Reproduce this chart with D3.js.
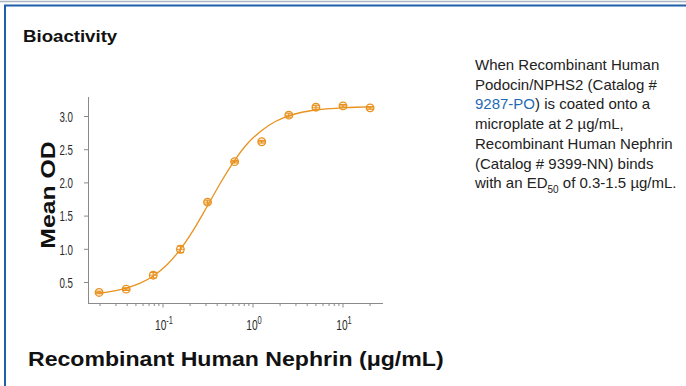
<!DOCTYPE html>
<html><head><meta charset="utf-8">
<script src="https://cdn.jsdelivr.net/npm/d3@7"></script>
<style>
body{margin:0;background:#fff;}
svg{display:block;}
</style></head>
<body>
<script>
// data
const concentrations = [0.0195, 0.039, 0.078, 0.156, 0.3125, 0.625, 1.25, 2.5, 5, 10, 20];
const meanOD = [0.35, 0.40, 0.61, 1.00, 1.71, 2.32, 2.62, 3.02, 3.14, 3.16, 3.13];
const errOD = [0.02, 0.02, 0.04, 0.05, 0.03, 0.02, 0.02, 0.03, 0.03, 0.02, 0.02];
const curveX = [0.0195, 0.0276, 0.039, 0.055, 0.078, 0.11, 0.156, 0.22, 0.3125, 0.44, 0.625, 0.88, 1.25, 1.77, 2.5, 3.5, 5, 7, 10, 14, 20];
const curveY = [0.34, 0.37, 0.415, 0.486, 0.598, 0.763, 1.00, 1.30, 1.656, 2.01, 2.34, 2.60, 2.79, 2.925, 3.01, 3.064, 3.098, 3.118, 3.131, 3.139, 3.144];
const yTicks = [0.5, 1.0, 1.5, 2.0, 2.5, 3.0];
const xMajor = [0.1, 1, 10];
const xMajorExp = ["-1", "0", "1"];

const W = 686, H = 386;
const svg = d3.select("body").append("svg").attr("width", W).attr("height", H);
const blue = "#1d5fa8", orange = "#e8921f", axisC = "#8a8a8a";
const sans = "Liberation Sans, Arial, sans-serif";

// helper: text at (x,y) with horizontal stretch sx
function txt(g, x0, y0, sx, anchor){
  return g.append("text").attr("transform",`translate(${x0},${y0}) scale(${sx},1)`)
    .attr("text-anchor", anchor||"start").attr("font-family", sans);
}

// frame
svg.append("line").attr("x1",0).attr("x2",W).attr("y1",1.5).attr("y2",1.5).attr("stroke","#a9b4c0").attr("stroke-width",1.5);
svg.append("line").attr("x1",4).attr("x2",W).attr("y1",5.5).attr("y2",5.5).attr("stroke",blue).attr("stroke-width",2);
svg.append("line").attr("x1",5).attr("x2",5).attr("y1",5).attr("y2",H).attr("stroke",blue).attr("stroke-width",2);

txt(svg,23,42,1.13).attr("font-weight","bold").attr("font-size",16.5).attr("fill","#111").text("Bioactivity");

// scales
const x = d3.scaleLog().domain([0.1*Math.pow(10,-75/90), 10*Math.pow(10,40/90)]).range([88, 383]);
const y = d3.scaleLinear().domain([0.5, 3.0]).range([282.5, 116.5]);
const yTop = 97, yBot = 303;

// y axis
svg.append("line").attr("x1",88.5).attr("x2",88.5).attr("y1",yTop).attr("y2",yBot).attr("stroke",axisC).attr("stroke-width",1);
const yg = svg.append("g");
yTicks.forEach(t=>{
  yg.append("line").attr("x1",84).attr("x2",88.5).attr("y1",y(t)).attr("y2",y(t)).attr("stroke",axisC);
  txt(yg,73,y(t)+5.2,0.65,"end").attr("font-size",15).attr("fill","#2a2a2a").text(d3.format(".1f")(t));
});
// x axis
svg.append("line").attr("x1",88).attr("x2",383).attr("y1",yBot+0.5).attr("y2",yBot+0.5).attr("stroke",axisC).attr("stroke-width",1);
const minor = [];
[0.01,0.1,1,10].forEach(d=>{ for(let k=1;k<10;k++){ const v=d*k; if(v>=x.domain()[0] && v<=x.domain()[1]) minor.push(v);} });
minor.forEach(v=>{
  const major = xMajor.some(m=>Math.abs(m-v)<1e-9);
  svg.append("line").attr("x1",x(v)).attr("x2",x(v)).attr("y1",yBot+0.5).attr("y2",yBot+(major?4.5:3)).attr("stroke",axisC);
});
xMajor.forEach((m,i)=>{
  const t = txt(svg,x(m)+1,330,0.68,"middle").attr("font-size",15).attr("fill","#2a2a2a");
  t.append("tspan").text("10");
  t.append("tspan").attr("dy",-6.5).attr("font-size",11).text(xMajorExp[i]);
});

// curve
const line = d3.line().x(d=>x(d[0])).y(d=>y(d[1])).curve(d3.curveMonotoneX);
svg.append("path").datum(curveX.map((c,i)=>[c,curveY[i]])).attr("d",line).attr("fill","none")
  .attr("stroke",orange).attr("stroke-width",1.3);

// points
const pts = svg.append("g");
concentrations.forEach((c,i)=>{
  const cx = x(c), cy = y(meanOD[i]);
  const e = errOD[i];
  pts.append("line").attr("x1",cx).attr("x2",cx).attr("y1",y(meanOD[i]+e)).attr("y2",y(meanOD[i]-e)).attr("stroke",orange).attr("stroke-width",1.2);
  [meanOD[i]+e, meanOD[i]-e].forEach(v=>{
    pts.append("line").attr("x1",cx-3.5).attr("x2",cx+3.5).attr("y1",y(v)).attr("y2",y(v)).attr("stroke",orange).attr("stroke-width",1.2);
  });
  pts.append("circle").attr("cx",cx).attr("cy",cy).attr("r",3.8).attr("fill","none").attr("stroke",orange).attr("stroke-width",1.3);
  pts.append("line").attr("x1",cx-3.8).attr("x2",cx+3.8).attr("y1",cy).attr("y2",cy).attr("stroke",orange).attr("stroke-width",1);
});

// axis titles
svg.append("text").attr("transform","translate(55,195) rotate(-90) scale(1.18,1)").attr("text-anchor","middle")
  .attr("font-family",sans).attr("font-weight","bold").attr("font-size",21).attr("fill","#111").text("Mean OD");
txt(svg,28,366,1.1).attr("font-weight","bold").attr("font-size",21).attr("fill","#111").text("Recombinant Human Nephrin (\u03bcg/mL)");

// description
const lines = [
  [["When Recombinant Human","#222"]],
  [["Podocin/NPHS2 (Catalog #","#222"]],
  [["9287-PO","#1f6bb5"],[") is coated onto a","#222"]],
  [["microplate at 2 \u00b5g/mL,","#222"]],
  [["Recombinant Human Nephrin","#222"]],
  [["(Catalog # 9399-NN) binds","#222"]],
  [["with an ED","#222"],["50","#222","sub"],[" of 0.3-1.5 \u00b5g/mL.","#222"]]
];
lines.forEach((ln,i)=>{
  const t = txt(svg,475,70+i*19.7,1.0).attr("font-size",15).attr("fill","#222");
  ln.forEach((seg,k)=>{
    const s = t.append("tspan").attr("fill",seg[1]).text(seg[0]);
    if(seg[2]==="sub"){ s.attr("font-size",10).attr("dy",5); }
    else if(k>0 && ln[k-1][2]==="sub"){ s.attr("dy",-5); }
  });
});
</script>
</body></html>
